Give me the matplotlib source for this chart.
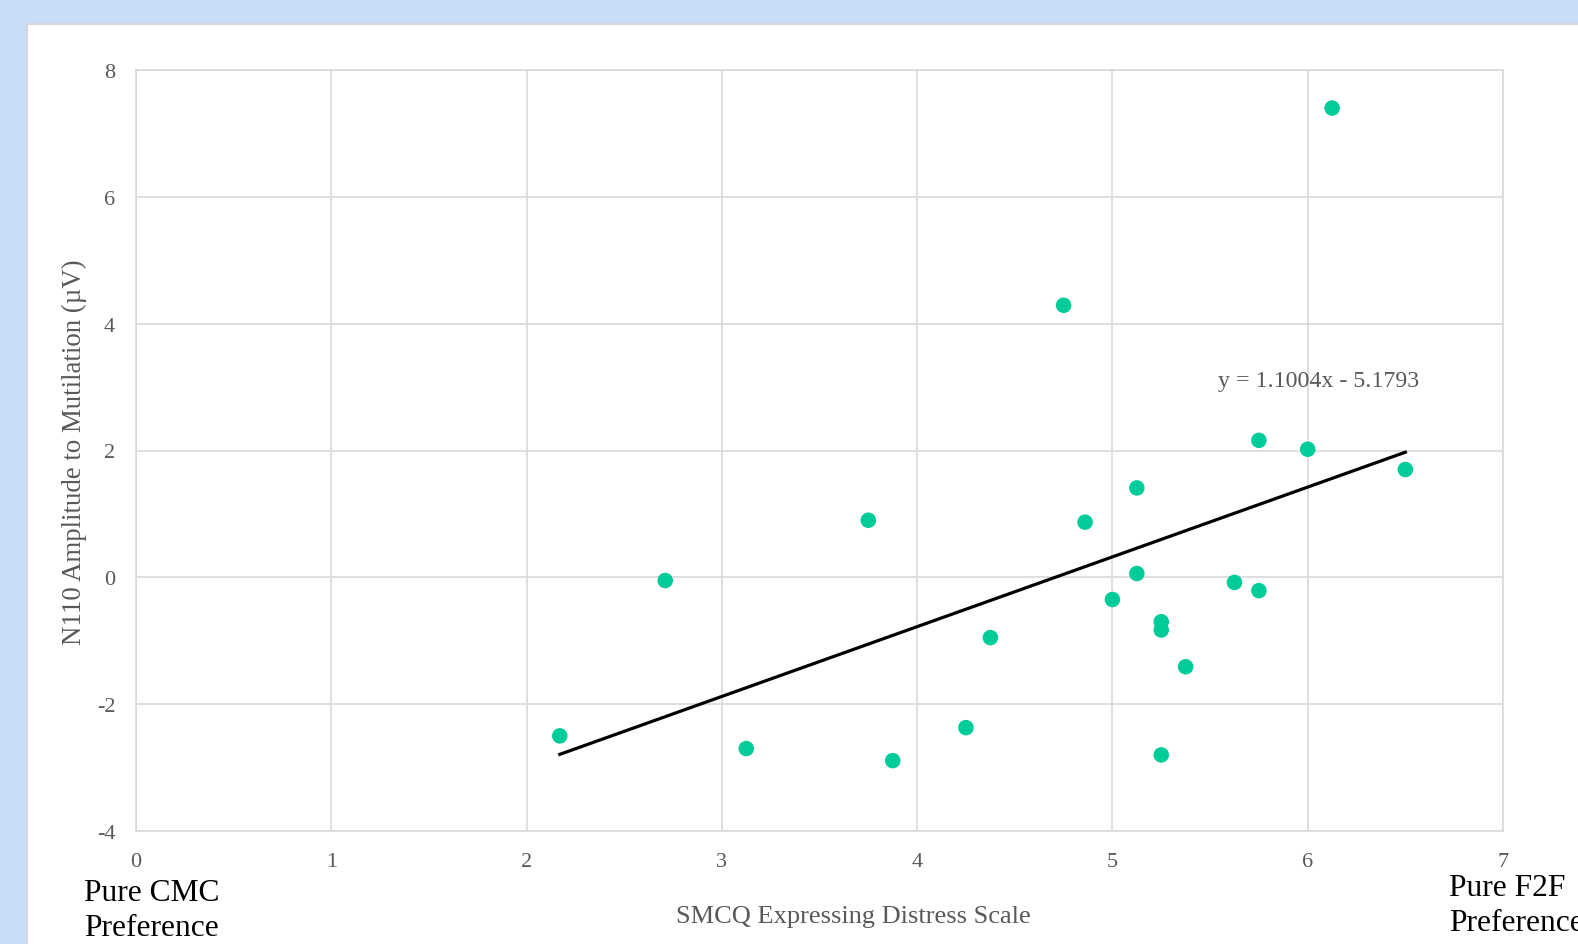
import matplotlib
matplotlib.use("Agg")
import matplotlib.pyplot as plt
from matplotlib.patches import Rectangle
import numpy as np

# distress score vs N110 amplitude, one point per participant
distress = [2.17, 2.71, 3.125, 3.75, 3.875, 4.25, 4.375, 4.75, 4.86, 5.0, 5.125,
            5.125, 5.25, 5.25, 5.25, 5.375, 5.625, 5.75, 5.75, 6.0, 6.125, 6.5]
n110_amp = [-2.5, -0.05, -2.7, 0.9, -2.89, -2.37, -0.95, 4.29, 0.87, -0.35, 1.41,
            0.06, -0.7, -0.83, -2.8, -1.41, -0.08, 2.16, -0.21, 2.02, 7.4, 1.7]

# linear trendline coefficients
slope = 1.1004
intercept = -5.1793

x_ticks = [0, 1, 2, 3, 4, 5, 6, 7]
y_ticks = [-4, -2, 0, 2, 4, 6, 8]

plt.rcParams['font.family'] = ['Liberation Serif', 'DejaVu Serif']
plt.rcParams['axes.unicode_minus'] = False

W, H = 1578, 945
fig = plt.figure(figsize=(W / 100, H / 100), dpi=100)
fig.patch.set_facecolor('#c9dcf8')
# white chart panel behind the axes
fig.patches.append(Rectangle((27 / W, -0.01), 1, 1.01 - 25 / H, transform=fig.transFigure,
                             facecolor='white', edgecolor='#d6d6d6', linewidth=1.5,
                             zorder=-5))

ax = fig.add_axes([136 / W, 1 - 832 / H, (1503 - 136) / W, (832 - 71) / H])
ax.set_facecolor('white')
ax.set_xlim(0, 7)
ax.set_ylim(-4, 8)
ax.set_xticks(x_ticks)
ax.set_yticks(y_ticks)
ax.grid(True, color='#d9d9d9', linewidth=1.2)
ax.set_axisbelow(True)
for s in ax.spines.values():
    s.set_color('#d9d9d9')
    s.set_linewidth(1.2)
ax.tick_params(length=0, labelsize=16, labelcolor='#595959')
ax.tick_params(axis='x', pad=15)
ax.tick_params(axis='y', pad=15)

ax.scatter(distress, n110_amp, s=125, color='#00cc99', edgecolors='none', zorder=3)

xt = np.array([min(distress), max(distress)])
ax.plot(xt, slope * xt + intercept, color='black', linewidth=2.3, zorder=4)
ax.text(5.54, 3.11, f'y = {slope:.4f}x - {abs(intercept):.4f}', fontsize=17.2,
        color='#595959', va='center', ha='left')

fig.text(74 / W, 1 - 452 / H, 'N110 Amplitude to Mutilation (µV)', fontsize=19.4,
         color='#595959', rotation=90, ha='center', va='center')
fig.text(853 / W, 1 - 917 / H, 'SMCQ Expressing Distress Scale', fontsize=19,
         color='#595959', ha='center', va='center')

fig.text(84 / W, 1 - 911 / H, 'Pure CMC\nPreference', fontsize=22.7, color='black',
         ha='left', va='center', linespacing=1.31)
fig.text(1449 / W, 1 - 906 / H, 'Pure F2F\nPreference', fontsize=22.7, color='black',
         ha='left', va='center', linespacing=1.31)

fig.savefig('out.png', dpi=100)
